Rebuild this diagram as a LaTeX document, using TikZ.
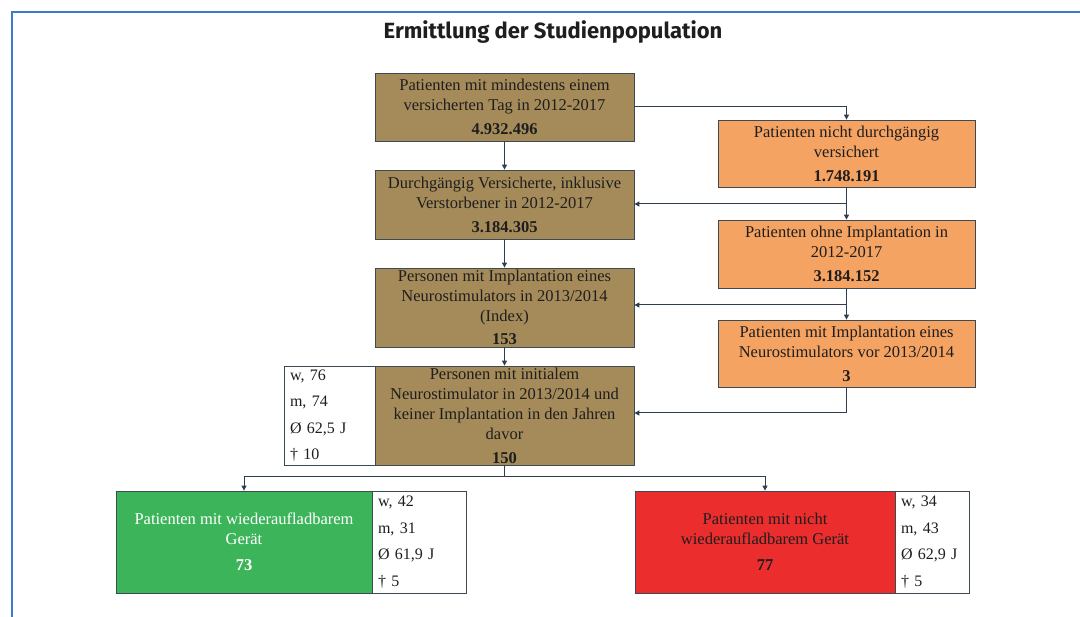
\documentclass[tikz,border=0pt]{standalone}
\usepackage{fontspec}
\setmainfont{Liberation Serif}
\newfontfamily\titlefont{Fira Sans}
\usetikzlibrary{arrows.meta}
\definecolor{framec}{HTML}{3B7DC4}
\definecolor{brownc}{HTML}{A68B5A}
\definecolor{orangec}{HTML}{F5A362}
\definecolor{greenc}{HTML}{3CB55A}
\definecolor{redc}{HTML}{EB2D2D}
\definecolor{edgec}{HTML}{3E4A52}
\definecolor{connc}{HTML}{2E3E4E}
\definecolor{textc}{HTML}{1E1E1E}
\tikzset{
  box/.style={draw=edgec, line width=0.8pt, inner sep=0pt, align=center, text=textc,
    font=\fontsize{16.5}{20}\selectfont},
  brownbox/.style={box, fill=brownc, minimum width=259pt},
  orangebox/.style={box, fill=orangec, minimum width=257pt},
  sidebox/.style={draw=edgec, line width=0.8pt, fill=white, inner xsep=6pt, inner ysep=0pt,
    align=left, text=textc, font=\fontsize{16}{26.5}\selectfont},
  conn/.style={draw=connc, line width=1pt, -{Triangle[length=5pt,width=5pt]}},
  plain/.style={draw=connc, line width=1pt},
}
\begin{document}
\begin{tikzpicture}[x=1pt,y=-1pt]
\useasboundingbox (0,0) rectangle (1080,617);
\draw[framec, line width=1.6pt] (12,617) -- (12,12) -- (1080,12);
\node[font=\titlefont\bfseries\fontsize{22}{24}\selectfont, text=textc] (title) at (553,32) {Ermittlung der Studienpopulation};

% left column
\node[brownbox, minimum height=68pt] (b1) at (504.5,107) {Patienten mit mindestens einem\\versicherten Tag in 2012-2017\\[4pt]\textbf{4.932.496}};
\node[brownbox, minimum height=69pt] (b2) at (504.5,204.5) {Durchgängig Versicherte, inklusive\\Verstorbener in 2012-2017\\[4pt]\textbf{3.184.305}};
\node[brownbox, minimum height=79pt] (b3) at (504.5,307.5) {Personen mit Implantation eines\\Neurostimulators in 2013/2014\\(Index)\\[3pt]\textbf{153}};
\node[sidebox, minimum width=91pt, minimum height=99pt, text width=79pt] (w4) at (329.5,415.5) {w, 76\\m, 74\\Ø 62,5 J\\† 10};
\node[brownbox, minimum height=99pt] (b4) at (504.5,415.5) {Personen mit initialem\\Neurostimulator in 2013/2014 und\\keiner Implantation in den Jahren\\davor\\[4pt]\textbf{150}};

% right column
\node[orangebox, minimum height=67pt] (oA) at (846.5,153.5) {Patienten nicht durchgängig\\versichert\\[4pt]\textbf{1.748.191}};
\node[orangebox, minimum height=68pt] (oB) at (846.5,254) {Patienten ohne Implantation in\\2012-2017\\[4pt]\textbf{3.184.152}};
\node[orangebox, minimum height=67pt] (oC) at (846.5,353.5) {Patienten mit Implantation eines\\Neurostimulators vor 2013/2014\\[4pt]\textbf{3}};

% bottom
\node[box, fill=greenc, text=white, minimum width=256pt, minimum height=102pt] (g) at (244,542) {Patienten mit wiederaufladbarem\\Gerät\\[6pt]\textbf{73}};
\node[sidebox, minimum width=94pt, minimum height=102pt, text width=82pt] (gw) at (419,542) {w, 42\\m, 31\\Ø 61,9 J\\† 5};
\node[box, fill=redc, minimum width=260pt, minimum height=102pt] (r) at (765,542) {Patienten mit nicht\\wiederaufladbarem Gerät\\[6pt]\textbf{77}};
\node[sidebox, minimum width=74pt, minimum height=102pt, text width=62pt] (rw) at (932,542) {w, 34\\m, 43\\Ø 62,9 J\\† 5};

% connectors
\draw[conn] (b1.south) -- (b2.north);
\draw[conn] (b2.south) -- (b3.north);
\draw[conn] (b3.south) -- (b4.north);
\draw[conn] (b1.east) -| (oA.north);
\draw[conn] (oA.south) -- (oB.north);
\draw[conn] (oB.south) -- (oC.north);
\coordinate (j1) at (846.5,204);
\coordinate (j2) at (846.5,305);
\draw[conn] (j1) -- (j1 -| b2.east);
\draw[conn] (j2) -- (j2 -| b3.east);
\coordinate (j3) at (846.5,413);
\draw[plain] (oC.south) -- (j3);
\draw[conn] (j3) -- (j3 -| b4.east);
\coordinate (j4) at (504.5,477);
\draw[plain] (b4.south) -- (j4);
\draw[conn] (j4) -| (g.north);
\draw[conn] (j4) -| (r.north);
\end{tikzpicture}
\end{document}
